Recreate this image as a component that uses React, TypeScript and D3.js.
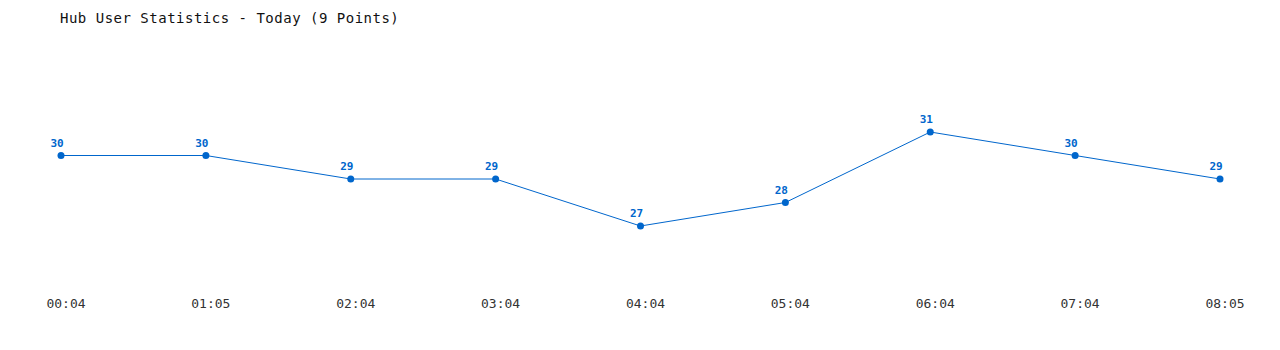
import React from "react";
import * as d3 from "d3";

const times = ["00:04", "01:05", "02:04", "03:04", "04:04", "05:04", "06:04", "07:04", "08:05"];
const users = [30, 30, 29, 29, 27, 28, 31, 30, 29];
const title = "Hub User Statistics - Today (9 Points)";

const W = 1280;
const H = 350;
const blue = "#0066cc";
const mono = "'DejaVu Sans Mono', 'Liberation Mono', monospace";

export default function App() {
  const x = d3.scalePoint<string>().domain(times).range([61, 1220]);
  const y = d3.scaleLinear().domain([27, 31]).range([226, 132]);
  const data = times.map((t, i) => ({ t, v: users[i] }));
  const line = d3
    .line<{ t: string; v: number }>()
    .x((d) => x(d.t)!)
    .y((d) => y(d.v));

  return (
    <svg
      width={W}
      height={H}
      style={{ position: "absolute", left: 0, top: 0, background: "#fff" }}
    >
      <text x={60} y={23} fontFamily={mono} fontSize={14} letterSpacing={0.5} fill="#111">
        {title}
      </text>
      <path d={line(data)!} fill="none" stroke={blue} strokeWidth={1} />
      {data.map((d) => (
        <g key={d.t}>
          <circle cx={x(d.t)!} cy={y(d.v)} r={3.5} fill={blue} />
          <text
            x={x(d.t)! - 4}
            y={y(d.v) - 9}
            textAnchor="middle"
            fontFamily={mono}
            fontSize={11}
            fontWeight="bold"
            fill={blue}
          >
            {d.v}
          </text>
          <text
            x={x(d.t)! + 5}
            y={308}
            textAnchor="middle"
            fontFamily={mono}
            fontSize={13}
            fill="#333"
          >
            {d.t}
          </text>
        </g>
      ))}
    </svg>
  );
}
